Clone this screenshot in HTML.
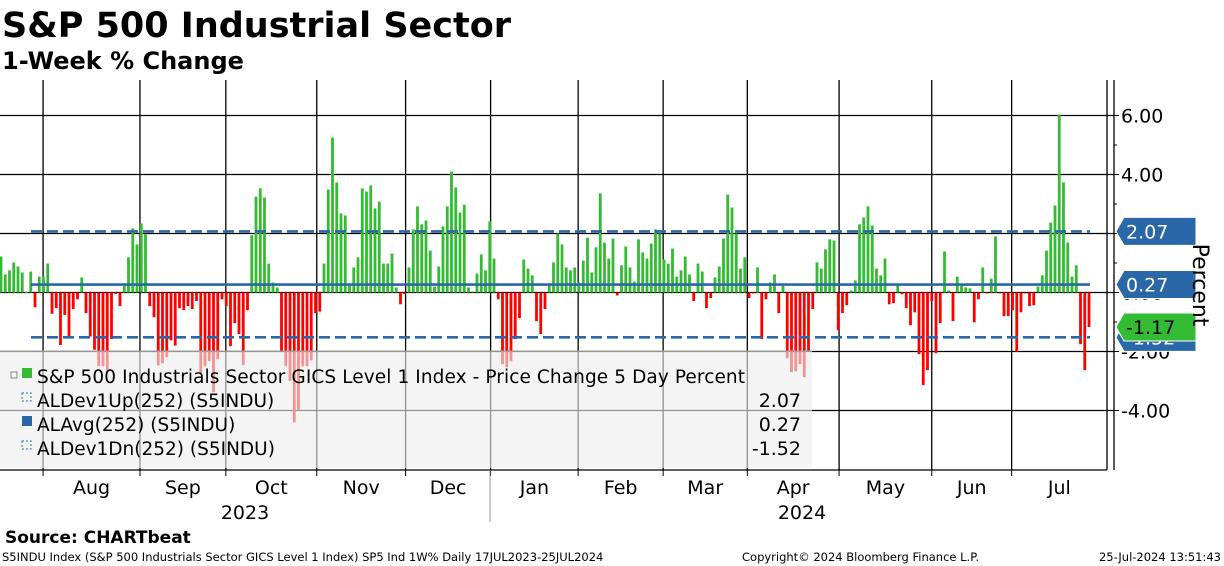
<!DOCTYPE html>
<html><head><meta charset="utf-8"><style>
body{margin:0;background:#fff;width:1224px;height:566px;overflow:hidden;font-family:"Liberation Sans","DejaVu Sans",sans-serif}
svg{position:absolute;left:0;top:0}
</style></head><body>
<svg id="c" width="1224" height="566" font-family="'DejaVu Sans','Liberation Sans',sans-serif">
<text x="2" y="37" font-size="35" font-weight="bold">S&amp;P 500 Industrial Sector</text>
<text x="2" y="69" font-size="24" font-weight="bold">1-Week % Change</text>
<g id="grid"></g><g id="bars"></g><g id="lines"></g><g id="legend"></g><g id="axes"></g>
<text x="5" y="543" font-size="17" font-weight="bold">Source: CHARTbeat</text>
<text x="2" y="561" font-size="11.5">S5INDU Index (S&amp;P 500 Industrials Sector GICS Level 1 Index) SP5 Ind 1W%  Daily 17JUL2023-25JUL2024</text>
<text x="742" y="561" font-size="11.5">Copyright© 2024 Bloomberg Finance L.P.</text>
<text x="1221" y="561" font-size="11.5" text-anchor="end">25-Jul-2024 13:51:43</text>
</svg>
<script>
const values=[1.22,0.61,0.75,1.02,0.88,0.68,0.02,0.71,-0.5,0.54,0.54,0.98,-0.72,-0.53,-1.78,-0.76,-1.49,-0.56,-0.23,0.51,-0.7,-1.49,-1.94,-2.5,-2.5,-2.64,-1.58,-0.05,-0.46,0.24,1.19,2.17,1.63,2.34,1.97,-0.46,-0.84,-2.47,-2.4,-2.19,-1.62,-1.8,-0.53,-0.6,-0.46,-0.56,-0.29,-2.73,-2.5,-2.33,-3.38,-2.26,-0.23,-0.46,-1.82,-1.04,-1.41,-2.46,-0.6,1.94,3.25,3.53,3.22,0.98,0.34,0.17,
-2.0,-2.5,-3.0,-4.4,-4.0,-2.5,-2.5,-2.3,-0.7,-0.65,
0.98,3.49,5.25,3.73,2.68,2.61,0.26,0.85,1.19,3.53,3.42,3.63,2.85,3.08,0.98,0.98,1.32,0.17,-0.4,-0.05,0.85,2.14,2.92,2.31,2.44,1.42,0.2,0.88,2.24,2.92,4.1,3.56,2.71,2.98,0.17,0.03,0.64,1.29,0.75,2.41,1.15,-0.23,-2.43,-2.53,-2.33,-1.58,-0.87,1.12,0.81,0.58,-0.97,-1.41,-0.56,0.24,1.02,
2.0,1.63,0.85,0.75,0.85,0.34,1.08,1.86,0.68,1.53,3.36,1.69,1.15,1.83,-0.1,0.92,1.56,0.85,0.37,1.8,1.36,1.15,1.66,2.14,2.0,1.12,0.98,1.49,0.54,0.75,1.22,0.61,-0.29,0.98,0.71,-0.53,-0.19,0.51,0.88,1.83,3.32,2.88,2.0,0.81,1.19,-0.19,-0.03,0.85,-1.58,-0.23,0.34,0.61,-0.7,0.24,-2.23,-2.7,-2.67,-2.43,-2.87,-1.99,-0.56,1.02,0.81,
1.46,1.8,1.76,-1.28,-0.7,-0.43,0.07,0.41,2.31,2.54,2.92,2.27,0.81,0.58,1.15,-0.4,-0.36,0.27,-0.06,-0.53,-1.11,-0.67,-2.09,-3.14,-2.63,-0.29,-2.06,-1.04,1.39,0.07,-0.97,0.54,0.27,0.17,0.14,-1.01,-0.23,0.85,-0.03,0.47,1.9,-0.03,-0.8,-0.8,-0.6,-2.01,-0.67,-0.03,-0.46,-0.43,0.2,0.58,1.42,2.37,2.95,6.03,3.73,1.69,0.54,0.92,-1.75,-2.63,-1.17];
const refLevels=[2.07,0.27,-1.52];
const refNames=["dev1up","avg","dev1dn"];
const yTicks=[6,4,2,0,-2,-4];
const yTickLabels=["6.00","4.00","","0.00","-2.00","-4.00"];
const months=["Aug","Sep","Oct","Nov","Dec","Jan","Feb","Mar","Apr","May","Jun","Jul"];
const monthStartIdx=[9.9,32.7,52.9,74.3,95.2,115.2,135.8,155.8,175.6,197.2,219,237.8];
const legendLabels=["S&P 500 Industrials Sector GICS Level 1 Index - Price Change 5 Day Percent","ALDev1Up(252) (S5INDU)","ALAvg(252) (S5INDU)","ALDev1Dn(252) (S5INDU)"];
const legendValues=["","2.07","0.27","-1.52"];

const NS="http://www.w3.org/2000/svg";
const X0=1,X1=1089,PT=80,PB=470;
const y=v=>292.5-v*29.5;
const n=values.length;
const x=i=>X0+i*(X1-X0)/(n-1);
function mk(p,t,a){const e=document.createElementNS(NS,t);for(const k in a)e.setAttribute(k,a[k]);p.appendChild(e);return e;}
const G=document.getElementById('grid'),B=document.getElementById('bars'),L=document.getElementById('lines'),LG=document.getElementById('legend'),A=document.getElementById('axes');
yTicks.forEach((t,i)=>{const l=mk(G,'line',{x1:0,x2:1114,y1:y(t),y2:y(t),stroke:'#000','stroke-width':1.3});

});
monthStartIdx.forEach((mi,i)=>{const gx=x(mi);const l=mk(G,'line',{x1:gx,x2:gx,y1:PT,y2:PB,stroke:'#000','stroke-width':1.3});


const nx=i<11?x(monthStartIdx[i+1]):1107;
const t=mk(A,'text',{x:(gx+nx)/2,y:494,'font-size':19,'text-anchor':'middle'});t.textContent=months[i];


mk(A,'line',{x1:gx,x2:gx,y1:PB,y2:PB+6,stroke:'#000'});});
values.forEach((v,i)=>{const r=mk(B,'rect',{x:x(i)-1.4,width:2.8,y:Math.min(y(v),y(0)),height:Math.max(Math.abs(y(v)-y(0)),0.8),fill:v>=0?'#33bb33':'#ff0000'});

});
refLevels.forEach((v,i)=>{const l=mk(L,'line',{x1:31,x2:1090,y1:y(v),y2:y(v),stroke:'#2a67a8','stroke-width':2.6,'stroke-dasharray':i==1?'':'11,5'});

});
const lb=mk(LG,'rect',{x:0,y:351,width:812,height:117,fill:'rgba(238,238,238,0.62)'});


mk(LG,'line',{x1:0,x2:812,y1:351,y2:351,stroke:'#999'});
legendLabels.forEach((s,i)=>{const ly=376+i*24;
const g=mk(LG,'g',{});


if(i==0){mk(g,'rect',{x:22,y:ly-8,width:10,height:10,fill:'#33bb33'});mk(g,'rect',{x:11,y:ly-4,width:6,height:6,fill:'none',stroke:'#888'});}
else if(i==2){mk(g,'rect',{x:22,y:ly-8,width:10,height:10,fill:'#2a67a8'});}
else{mk(g,'rect',{x:22,y:ly-7,width:9,height:8,fill:'none',stroke:'#2a67a8','stroke-dasharray':'2,2'});}
const t=mk(g,'text',{x:37,y:ly+7,'font-size':18.5,textLength:i==0?708:null});
if(i!=0)t.removeAttribute('textLength');
t.textContent=s;
const vt=mk(g,'text',{x:801,y:ly+7,'font-size':19,'text-anchor':'end'});vt.textContent=legendValues[i];});
mk(A,'line',{x1:1107,x2:1107,y1:PT,y2:PB,stroke:'#000','stroke-width':1.3});
mk(A,'line',{x1:1114,x2:1114,y1:PT,y2:PB,stroke:'#000','stroke-width':1.3});
mk(A,'line',{x1:0,x2:1107,y1:PB,y2:PB,stroke:'#000','stroke-width':1.3});
yTicks.forEach((t,i)=>{mk(A,'line',{x1:1114,x2:1119,y1:y(t),y2:y(t),stroke:'#000'});
if(yTickLabels[i]){const tx=mk(A,'text',{x:1121,y:y(t)+7,'font-size':19});tx.textContent=yTickLabels[i];

}});
[-1,1,3,5].forEach(t=>mk(A,'line',{x1:1114,x2:1117,y1:y(t),y2:y(t),stroke:'#000'}));
function tag(v,txt,col,name){const cy=y(v);const g=mk(A,'g',{});


mk(g,'path',{d:`M1116 ${cy} L1124 ${cy-14} L1196 ${cy-14} L1196 ${cy+14} L1124 ${cy+14} Z`,fill:col,stroke:'#fff','stroke-width':1});
const t=mk(g,'text',{x:1126,y:cy+7,'font-size':19,fill:'#fff'});t.textContent=txt;return t;}
tag(-1.52,"-1.52","#2a67a8","tag-dev1dn");
tag(2.07,"2.07","#2a67a8","tag-dev1up");
tag(0.27,"0.27","#2a67a8","tag-avg");
const last=values[n-1];
const lt=tag(last,last.toFixed(2),"#33bb33","tag-last-value");lt.setAttribute('fill','#000');
const pt=mk(A,'text',{x:1201,y:285,'font-size':22,'text-anchor':'middle',transform:'rotate(90 1201 285)',dy:8});pt.textContent="Percent";


const y1=mk(A,'text',{x:245,y:519,'font-size':19,'text-anchor':'middle'});y1.textContent="2023";


const y2=mk(A,'text',{x:802,y:519,'font-size':19,'text-anchor':'middle'});y2.textContent="2024";


mk(A,'line',{x1:490,x2:490,y1:PB,y2:522,stroke:'#999'});
</script>
</body></html>
